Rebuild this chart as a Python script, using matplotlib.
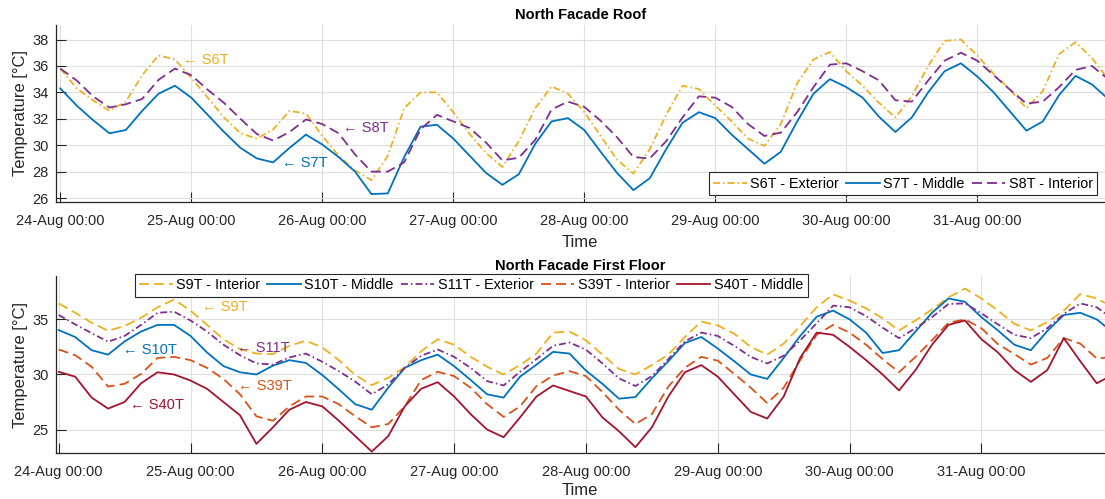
import matplotlib
matplotlib.use('Agg')
import matplotlib.pyplot as plt
import matplotlib.dates as mdates
import pandas as pd

plt.rcParams['font.family'] = ['Liberation Sans', 'DejaVu Sans']
plt.rcParams['lines.scale_dashes'] = False

# ---------------- data (3-hourly, from 24-Aug 00:00) ----------------
start = '2023-08-24 00:00'
n_points = 65
step = '3h'

s6t = [35.8, 34.3, 33.4, 32.6, 33.3, 35.3, 36.8, 36.5, 35.1, 33.6,
       32.1, 30.9, 30.5, 31.2, 32.6, 32.4, 30.7, 29.2, 28.1, 27.35,
       29.2, 32.8, 34.0, 34.0, 32.5, 30.85, 29.4, 28.35, 30.3, 32.8,
       34.45, 33.9, 32.5, 30.7, 28.9, 27.85, 29.7, 32.3, 34.5, 34.25,
       33.0, 31.8, 30.5, 29.95, 31.6, 34.7, 36.5, 37.05, 35.6, 34.5,
       33.2, 32.1, 33.7, 36.0, 37.9, 38.0, 36.8, 35.4, 34.2, 32.8,
       34.1, 36.9, 37.8, 36.6, 35.0]
s7t = [34.3, 33.0, 31.9, 30.9, 31.15, 32.6, 33.9, 34.5, 33.6, 32.3,
       31.0, 29.8, 29.0, 28.7, 29.8, 30.8, 30.05, 29.1, 28.0, 26.3,
       26.35, 29.1, 31.4, 31.55, 30.5, 29.2, 27.9, 27.0, 27.8, 30.1,
       31.8, 32.05, 31.15, 29.5, 27.9, 26.6, 27.5, 29.7, 31.7, 32.5,
       32.05, 30.8, 29.7, 28.6, 29.5, 31.8, 33.9, 35.0, 34.4, 33.6,
       32.15, 31.0, 32.1, 34.0, 35.6, 36.2, 35.2, 34.0, 32.55, 31.1,
       31.8, 33.8, 35.25, 34.6, 33.5]
s8t = [35.8, 34.9, 33.7, 32.85, 33.1, 33.5, 34.95, 35.8, 35.3, 34.2,
       33.2, 32.0, 30.85, 30.35, 31.0, 31.95, 31.6, 30.9, 29.3, 28.0,
       28.0, 28.7, 31.2, 32.3, 31.8, 31.3, 30.2, 28.85, 29.05, 30.4,
       32.7, 33.3, 32.9, 31.85, 30.6, 29.1, 29.0, 30.3, 32.1, 33.7,
       33.6, 32.9, 31.6, 30.7, 30.95, 32.5, 34.4, 36.1, 36.2, 35.6,
       34.9, 33.4, 33.3, 34.9, 36.4, 37.0, 36.4, 35.3, 34.2, 33.15,
       33.3, 34.4, 35.7, 36.0, 35.0]

s9t = [36.45, 35.6, 34.7, 33.97, 34.4, 35.15, 36.1, 36.8, 35.8, 34.5,
       33.2, 32.3, 31.9, 31.85, 32.6, 33.06, 32.45, 31.3, 29.95, 29.03,
       29.7, 30.65, 32.1, 33.2, 32.7, 31.6, 30.7, 30.0, 30.85, 31.9,
       33.8, 33.9, 33.1, 31.8, 30.5, 30.0, 30.85, 31.8, 33.4, 34.8,
       34.45, 33.7, 32.5, 31.8, 32.8, 34.4, 36.1, 37.27, 36.7, 36.0,
       35.1, 34.0, 34.9, 35.9, 37.0, 37.8, 36.9, 35.8, 34.6, 34.0,
       34.75, 35.8, 37.3, 36.9, 36.1]
s10t = [34.03, 33.4, 32.2, 31.8, 33.0, 33.9, 34.5, 34.5, 33.5, 32.0,
        30.76, 30.2, 30.0, 30.8, 31.3, 31.05, 29.95, 28.65, 27.3, 26.8,
        28.8, 30.6, 31.3, 31.8, 30.75, 29.5, 28.2, 27.9, 29.8, 30.9,
        32.05, 31.9, 30.35, 29.15, 27.8, 27.95, 29.65, 31.2, 32.85, 33.4,
        32.35, 31.2, 30.0, 29.6, 31.5, 33.5, 35.24, 35.8, 35.0, 33.8,
        31.95, 32.2, 33.9, 35.6, 36.9, 36.6, 35.2, 34.0, 32.7, 32.2,
        33.95, 35.4, 35.6, 35.0, 33.8]
s11t = [35.4, 34.55, 33.75, 32.97, 33.5, 34.5, 35.6, 35.7, 34.9, 33.9,
        32.7, 31.75, 31.0, 30.9, 31.55, 31.9, 31.15, 30.3, 29.35, 28.2,
        29.1, 30.6, 31.7, 32.27, 31.6, 30.6, 29.4, 29.0, 30.24, 31.4,
        32.6, 32.9, 32.25, 31.0, 29.65, 28.95, 29.85, 31.4, 33.0, 33.8,
        33.5, 32.6, 31.6, 31.0, 31.7, 33.1, 34.65, 36.25, 36.1, 35.3,
        34.25, 33.3, 34.2, 35.2, 36.4, 36.45, 35.55, 34.55, 33.6, 33.3,
        34.2, 35.5, 36.45, 36.1, 35.0]
s39t = [32.27, 31.75, 30.7, 28.9, 29.15, 30.05, 31.5, 31.6, 31.3, 30.6,
        29.6, 28.2, 26.2, 25.8, 27.1, 28.0, 28.0, 27.3, 26.2, 25.2,
        25.5, 27.1, 29.5, 30.24, 29.85, 28.8, 27.3, 26.15, 27.1, 28.95,
        29.9, 30.3, 29.85, 28.4, 26.8, 25.5, 26.4, 28.9, 30.6, 31.6,
        31.25, 30.05, 28.8, 27.4, 28.8, 31.3, 33.6, 34.5, 33.8, 32.7,
        31.4, 30.2, 31.6, 33.1, 34.7, 35.0, 34.2, 32.75, 31.85, 30.9,
        31.5, 33.3, 32.8, 31.45, 31.6]
s40t = [30.24, 29.8, 27.9, 26.9, 27.5, 29.2, 30.2, 30.0, 29.45, 28.7,
        27.5, 26.3, 23.7, 25.2, 26.8, 27.5, 27.1, 25.8, 24.4, 23.0,
        24.4, 27.1, 28.7, 29.3, 28.0, 26.4, 25.0, 24.3, 26.1, 28.0,
        29.0, 28.5, 28.0, 26.1, 24.85, 23.4, 25.2, 28.0, 30.2, 30.85,
        29.8, 28.2, 26.6, 26.0, 28.0, 31.5, 33.8, 33.6, 32.5, 31.3,
        30.0, 28.55, 30.4, 32.7, 34.5, 34.9, 33.2, 32.0, 30.4, 29.33,
        30.4, 33.3, 31.2, 29.2, 30.0]

top_labels = ['S6T - Exterior', 'S7T - Middle', 'S8T - Interior']
bot_labels = ['S9T - Interior', 'S10T - Middle', 'S11T - Exterior',
              'S39T - Interior', 'S40T - Middle']
top_title = 'North Facade Roof'
bot_title = 'North Facade First Floor'
top_yticks = [26, 28, 30, 32, 34, 36, 38]
bot_yticks = [25, 30, 35]

# ---------------- styling ----------------
C_BLUE, C_ORANGE, C_YELLOW, C_PURPLE, C_RED = '#0072BD', '#D95319', '#EDB120', '#7E2F8E', '#A2142F'
DASH = (7.2, 3.6)
DASHDOT = (5.0, 2.2, 1.1, 2.2)
LW = 1.3
DARK = '#262626'

times = pd.date_range(start, periods=n_points, freq=step)
t0 = times[0]

W, H = 1105, 499
fig = plt.figure(figsize=(W / 100, H / 100), dpi=100)
ax1 = fig.add_axes([55.5 / W, (H - 202) / H, 1049.5 / W, 177 / H])
ax2 = fig.add_axes([55.5 / W, (H - 453) / H, 1049.5 / W, 177 / H])


def style(ax, title, xlabelpad):
    for s in ['top', 'right']:
        ax.spines[s].set_visible(False)
    for s in ['left', 'bottom']:
        ax.spines[s].set_color(DARK)
        ax.spines[s].set_linewidth(0.9)
    ax.tick_params(direction='in', length=7.2, width=0.8, colors=DARK,
                   labelsize=10.5)
    ax.tick_params(axis='x', pad=8.5)
    ax.tick_params(axis='y', pad=5)
    ax.grid(True, color='#e0e0e0', linewidth=0.8)
    ax.set_axisbelow(True)
    ax.xaxis.set_major_locator(mdates.DayLocator())
    ax.xaxis.set_major_formatter(mdates.DateFormatter('%d-%b %H:%M'))
    ax.set_title(title, fontsize=10.5, fontweight='bold', pad=4)
    ax.set_xlabel('Time', fontsize=12, color=DARK, labelpad=xlabelpad)
    ax.set_ylabel('Temperature [°C]', fontsize=12, color=DARK, labelpad=3)


def hrs(h):
    return t0 + pd.Timedelta(hours=h)


# ---------------- top plot ----------------
ax1.plot(times, s6t, color=C_YELLOW, lw=LW, dashes=DASHDOT, label=top_labels[0])
ax1.plot(times, s7t, color=C_BLUE, lw=LW, label=top_labels[1])
ax1.plot(times, s8t, color=C_PURPLE, lw=LW, dashes=DASH, label=top_labels[2])
style(ax1, top_title, 5.5)
ax1.set_yticks(top_yticks)
ax1.set_ylim(25.7, 39.1)
ax1.set_xlim(hrs(-0.88), hrs(191.4))

ann_kw = dict(fontsize=10.5, ha='left', va='center')
ax1.text(hrs(22.5), 36.48, '\u2190 S6T', color=C_YELLOW, **ann_kw)
ax1.text(hrs(51.8), 31.3, '\u2190 S8T', color=C_PURPLE, **ann_kw)
ax1.text(hrs(40.6), 28.64, '\u2190 S7T', color=C_BLUE, **ann_kw)

leg_kw = dict(fontsize=10.4, frameon=True, fancybox=False, edgecolor=DARK,
              framealpha=1, handlelength=2.3, handletextpad=0.25,
              columnspacing=0.5, borderpad=0.3, borderaxespad=0)
leg1 = ax1.legend(ncol=3, loc='lower right', bbox_to_anchor=(0.9924, 0.0395), **leg_kw)
leg1.get_frame().set_linewidth(0.8)

# ---------------- bottom plot ----------------
ax2.plot(times, s9t, color=C_YELLOW, lw=LW, dashes=DASH, label=bot_labels[0])
ax2.plot(times, s10t, color=C_BLUE, lw=LW, label=bot_labels[1])
ax2.plot(times, s11t, color=C_PURPLE, lw=LW, dashes=DASHDOT, label=bot_labels[2])
ax2.plot(times, s39t, color=C_ORANGE, lw=LW, dashes=DASH, label=bot_labels[3])
ax2.plot(times, s40t, color=C_RED, lw=LW, label=bot_labels[4])
style(ax2, bot_title, 3.0)
ax2.set_yticks(bot_yticks)
ax2.set_ylim(22.87, 38.94)
ax2.set_xlim(hrs(-0.58), hrs(190.5))

ax2.text(hrs(26.1), 36.09, '\u2190 S9T', color=C_YELLOW, **ann_kw)
ax2.text(hrs(11.7), 32.2, '\u2190 S10T', color=C_BLUE, **ann_kw)
ax2.text(hrs(32.5), 32.36, '\u2190 S11T', color=C_PURPLE, **ann_kw)
ax2.text(hrs(32.65), 28.94, '\u2190 S39T', color=C_ORANGE, **ann_kw)
ax2.text(hrs(13.0), 27.27, '\u2190 S40T', color=C_RED, **ann_kw)

leg2 = ax2.legend(ncol=5, loc='upper left', bbox_to_anchor=(0.0757, 1.011), **leg_kw)
leg2.get_frame().set_linewidth(0.8)

fig.savefig('out.png', dpi=100)
